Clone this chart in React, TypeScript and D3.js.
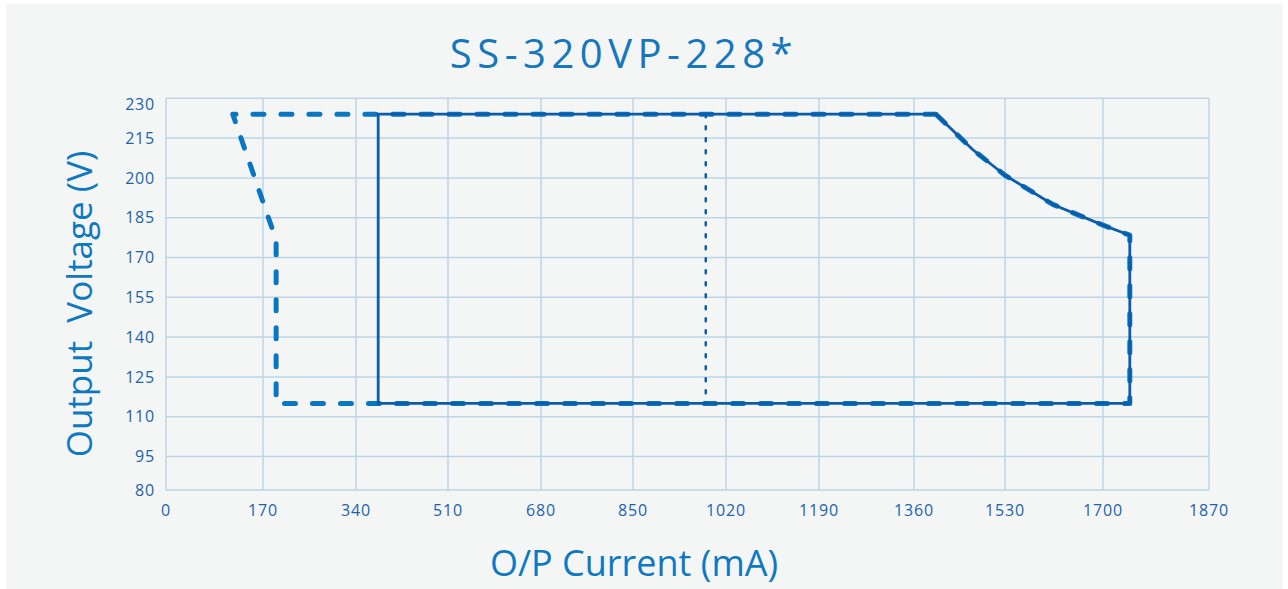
import React from "react";
import * as d3 from "d3";

const xTicks = [0, 170, 340, 510, 680, 850, 1020, 1190, 1360, 1530, 1700, 1870];
const yTicks = [80, 95, 110, 125, 140, 155, 170, 185, 200, 215, 230];

// power limit curve (mA, V)
const powerCurve: [number, number][] = [
  [1401, 224],
  [1470, 210.6],
  [1530, 201],
  [1613, 190],
  [1700, 182.2],
  [1743, 178.4],
];

// solid outline
const solidArea: [number, number][] = [
  [381, 115],
  [381, 224],
  ...powerCurve,
  [1743, 115],
];

// dashed outline
const dashedArea: [number, number][] = [
  [1401, 224],
  [117, 224],
  [194, 176.6],
  [194, 115],
  [1743, 115],
  ...powerCurve.slice().reverse(),
];

const dottedLine: [number, number][] = [
  [983, 224],
  [983, 115],
];

const W = 1288;
const H = 589;

const font = "'Open Sans', 'Noto Sans', sans-serif";

export default function App() {
  // the source grid is not evenly spaced, so the scales are piecewise
  const x = d3
    .scaleLinear()
    .domain(xTicks)
    .range([166, 263, 356, 448, 541, 633, 726, 819, 914, 1005, 1103, 1209]);
  const y = d3.scaleLinear().domain([80, 95, 230]).range([490, 456.5, 98.3]);

  const left = x(0);
  const right = x(1870);
  const top = y(230);
  const bottom = y(80);

  const line = d3
    .line<[number, number]>()
    .x((d) => x(d[0]))
    .y((d) => y(d[1]));

  return (
    <div style={{ position: "absolute", left: 0, top: 0 }}>
      <svg width={W} height={H} style={{ display: "block", background: "#fff" }}>
        <rect x={6} y={4} width={1277} height={585} fill="#f4f6f6" />

        {/* grid */}
        <g stroke="#bdd4e7" strokeWidth={1.5}>
          {xTicks.map((t) => (
            <line key={"gx" + t} x1={x(t)} x2={x(t)} y1={top} y2={bottom} />
          ))}
          {yTicks.map((t) => (
            <line key={"gy" + t} x1={left} x2={right} y1={y(t)} y2={y(t)} />
          ))}
        </g>

        {/* tick labels */}
        <g fill="#1d62ab" fontFamily={font} fontSize={16} letterSpacing={0.8}>
          {yTicks.map((t) => (
            <text key={"ly" + t} x={155} y={Math.max(y(t), top + 6)} dy="0.35em" textAnchor="end">
              {t}
            </text>
          ))}
          {xTicks.map((t) => (
            <text key={"lx" + t} x={x(t)} y={516} textAnchor="middle">
              {t}
            </text>
          ))}
        </g>

        {/* curves */}
        <path
          d={line(dashedArea) + "Z"}
          fill="none"
          stroke="#0a76c2"
          strokeWidth={5}
          strokeDasharray="11 17"
          strokeLinecap="round"
          strokeLinejoin="round"
        />
        <path
          d={line(solidArea) + "Z"}
          fill="none"
          stroke="#0b5ca9"
          strokeWidth={2.8}
          strokeLinejoin="round"
        />
        <path
          d={line(dottedLine) ?? ""}
          fill="none"
          stroke="#0b5ca9"
          strokeWidth={2.5}
          strokeDasharray="3 9"
          strokeLinecap="round"
        />

        {/* titles */}
        <text
          x={624}
          y={68}
          textAnchor="middle"
          fill="#1677bd"
          fontFamily={font}
          fontSize={40}
          letterSpacing={5.5}
        >
          SS-320VP-228*
        </text>
        <text
          x={634}
          y={576}
          textAnchor="middle"
          fill="#0e78c0"
          fontFamily={font}
          fontSize={36}
        >
          O/P Current (mA)
        </text>
        <text
          transform={`translate(92,304) rotate(-90)`}
          textAnchor="middle"
          fill="#0e78c0"
          fontFamily={font}
          fontSize={35}
          style={{ whiteSpace: "pre" }}
        >
          {"Output  Voltage (V)"}
        </text>
      </svg>
    </div>
  );
}
